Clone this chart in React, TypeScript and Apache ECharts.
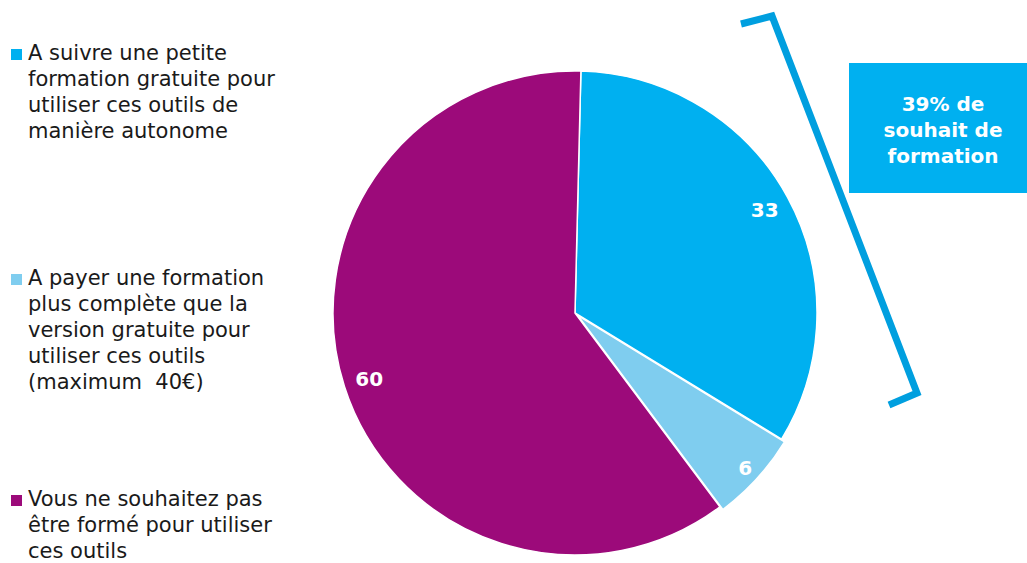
import React, { useEffect, useRef } from "react";
import * as echarts from "echarts";

const categories = [
  "A suivre une petite\nformation gratuite pour\nutiliser ces outils de\nmanière autonome",
  "A payer une formation\nplus complète que la\nversion gratuite pour\nutiliser ces outils\n(maximum  40€)",
  "Vous ne souhaitez pas\nêtre formé pour utiliser\nces outils",
];
const values = [33, 6, 60];
const colors = ["#00B0F0", "#7FCDEF", "#9C0A7A"];
const explodedIndex = 1;
const calloutText = "39% de\nsouhait de\nformation";

const FONT = "'DejaVu Sans', Verdana, sans-serif";
const legendTops = [40, 265, 486];
const CENTER = [575, 313];
const RADIUS = 242;
const START = 88.6;
const EXPLODE = 4;

export default function App() {
  const ref = useRef<HTMLDivElement>(null);
  useEffect(() => {
    if (!ref.current) return;
    const chart = echarts.init(ref.current, null, { renderer: "svg" });
    const names = categories.map((c) => c.replace(/\n/g, " "));
    const total = values.reduce((a, b) => a + b, 0);
    let before = 0;
    for (let i = 0; i < explodedIndex; i++) before += values[i];
    const midDeg = START - ((before + values[explodedIndex] / 2) / total) * 360;
    const mid = (midDeg * Math.PI) / 180;
    const exCenter = [CENTER[0] + EXPLODE * Math.cos(mid), CENTER[1] - EXPLODE * Math.sin(mid)];

    const legendGraphics: any[] = [];
    categories.forEach((c, i) => {
      legendGraphics.push({
        type: "rect",
        shape: { x: 11, y: legendTops[i] + 9, width: 11, height: 11 },
        style: { fill: colors[i] },
      });
      legendGraphics.push({
        type: "text",
        x: 28,
        y: legendTops[i],
        style: {
          text: c,
          font: `21px ${FONT}`,
          fill: "#1a1a1a",
          lineHeight: 26,
          verticalAlign: "top",
          align: "left",
        },
      });
    });
    const base = {
      type: "pie",
      radius: RADIUS,
      startAngle: START,
      clockwise: true,
      silent: true,
      emphasis: { disabled: true },
      labelLine: { show: false },
    };
    const labelStyle = {
      position: "inside",
      formatter: "{c}",
      color: "#ffffff",
      fontWeight: "bold",
      fontSize: 20,
      fontFamily: FONT,
    };
    chart.setOption({
      animation: false,
      backgroundColor: "#ffffff",
      graphic: [
        ...legendGraphics,
        {
          type: "polyline",
          shape: {
            points: [
              [741, 24],
              [772, 16],
              [917, 393],
              [889, 405],
            ],
          },
          style: { stroke: "#009FDF", lineWidth: 7, fill: "none", lineJoin: "miter" },
        },
        {
          type: "rect",
          shape: { x: 849, y: 63, width: 178, height: 130 },
          style: { fill: "#00B0F0" },
        },
        {
          type: "text",
          x: 943,
          y: 130,
          style: {
            text: calloutText,
            font: `bold 20px ${FONT}`,
            fill: "#ffffff",
            lineHeight: 26,
            align: "center",
            verticalAlign: "middle",
          },
        },
      ],
      series: [
        {
          ...base,
          center: CENTER,
          label: { show: false },
          itemStyle: { borderColor: "#ffffff", borderWidth: 1.5 },
          data: values.map((v, i) => ({
            value: v,
            name: names[i],
            itemStyle: {
              color: i === explodedIndex ? "rgba(0,0,0,0)" : colors[i],
              borderWidth: i === explodedIndex ? 0 : 1.5,
            },
          })),
        },
        {
          ...base,
          center: exCenter,
          label: { show: false },
          data: values.map((v, i) => ({
            value: v,
            name: names[i],
            itemStyle:
              i === explodedIndex
                ? { color: colors[i], borderColor: "#ffffff", borderWidth: 1.5 }
                : { color: "rgba(0,0,0,0)", borderWidth: 0 },
          })),
        },
        {
          ...base,
          center: CENTER,
          radius: [184, RADIUS],
          itemStyle: { color: "rgba(0,0,0,0)", borderWidth: 0 },
          label: { show: true, ...labelStyle },
          data: values.map((v, i) => ({
            value: v,
            name: names[i],
            label: { show: i !== explodedIndex },
          })),
        },
        {
          ...base,
          center: exCenter,
          radius: [204, RADIUS],
          itemStyle: { color: "rgba(0,0,0,0)", borderWidth: 0 },
          label: { show: true, ...labelStyle },
          data: values.map((v, i) => ({
            value: v,
            name: names[i],
            label: { show: i === explodedIndex },
          })),
        },
      ],
    });
    return () => chart.dispose();
  }, []);
  return (
    <div
      ref={ref}
      style={{ position: "absolute", left: 0, top: 0, width: 1027, height: 563 }}
    />
  );
}
